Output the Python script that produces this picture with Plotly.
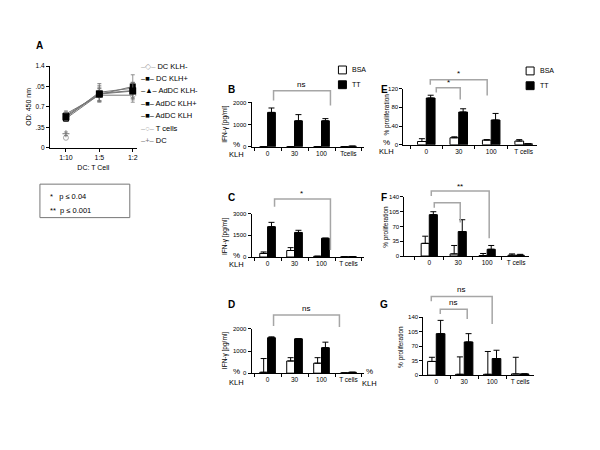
import plotly.graph_objects as go

W, H = 600, 450

# ---------------- data ----------------
ratio = ["1:10", "1:5", "1:2"]
dc_klh_neg = [0.58, 0.90, 0.90]
dc_klh_neg_err = [0.05, 0.12, 0.12]
dc_klh_pos = [0.55, 0.93, 0.98]
dc_klh_pos_err = [0.06, 0.14, 0.13]
addc_klh_neg = [0.52, 0.95, 1.02]
addc_klh_neg_err = [0.07, 0.15, 0.10]
addc_klh_pos = [0.50, 0.91, 1.05]
addc_klh_pos_err = [0.05, 0.10, 0.20]
addc_klh = [0.53, 0.92, 0.97]
addc_klh_err = [0.06, 0.12, 0.15]
tcells_a = [0.17]
dc_a = [0.24]
dc_a_err = [0.03]

klh_b = ["0", "30", "100", "Tcells"]
klh = ["0", "30", "100", "T cells"]

b_bsa = [8, 8, 8, 10]
b_bsa_err = [0, 0, 0, 0]
b_tt = [1550, 1170, 1170, 25]
b_tt_err = [200, 280, 100, 0]

c_bsa = [250, 450, 50, 10]
c_bsa_err = [100, 200, 0, 0]
c_tt = [2100, 1700, 1300, 20]
c_tt_err = [300, 150, 0, 0]

d_bsa = [40, 550, 450, 10]
d_bsa_err = [620, 150, 250, 0]
d_tt = [1600, 1550, 1150, 40]
d_tt_err = [40, 0, 250, 0]

e_bsa = [7, 15, 10, 8]
e_bsa_err = [6, 2, 1, 3]
e_tt = [100, 70, 53, 2]
e_tt_err = [6, 7, 14, 0]

f_bsa = [30, 5, 1, 2]
f_bsa_err = [17, 20, 5, 3]
f_tt = [98, 58, 16, 2]
f_tt_err = [7, 28, 9, 2]

g_bsa = [33, 2, 2, 3]
g_bsa_err = [10, 42, 55, 40]
g_tt = [100, 80, 40, 3]
g_tt_err = [32, 20, 20, 0]

FONT = "Liberation Sans"
GREY = "#a6a6a6"


def px(x):
    return x / W


def py(y):
    return 1 - y / H


annotations = []
shapes = []


def label(x, y, text, size=7, xanchor="center", angle=0):
    annotations.append(dict(x=px(x), y=py(y), xref="paper", yref="paper", text=text,
                            xanchor=xanchor, yanchor="middle", showarrow=False,
                            textangle=angle, font=dict(size=size)))


fig = go.Figure()
layout = dict(
    width=W, height=H, margin=dict(l=0, r=0, t=0, b=0),
    paper_bgcolor="white", plot_bgcolor="white",
    font=dict(family=FONT, size=7, color="black"),
    showlegend=False, barmode="overlay",
)


def axes(n, x0, x1, r, y0, yt, ymax, tickvals, ticktext, cat=True, fs=6):
    s = "" if n == 1 else str(n)
    layout["xaxis" + s] = dict(
        domain=[px(x0), px(x1)], range=r, anchor="y" + s,
        showline=True, linecolor="black", linewidth=1, showgrid=False,
        ticks="outside", ticklen=3, tickcolor="black", tickangle=0,
        tickfont=dict(size=fs + 0.5), zeroline=False,
        tickson="boundaries" if cat else "labels",
    )
    layout["yaxis" + s] = dict(
        domain=[py(y0), py(yt)], range=[0, ymax], anchor="x" + s,
        showline=True, linecolor="black", linewidth=1, showgrid=False,
        ticks="outside", ticklen=3, tickcolor="black", zeroline=False,
        tickvals=tickvals, ticktext=ticktext, tickfont=dict(size=fs),
    )


# ---------------- panel A ----------------
axes(1, 50, 137, [-0.48, 2.12], 146, 63, 1.4,
     [0, 0.35, 0.7, 1.05, 1.4], ["0", ".35", "0.7", ".05", "1.4"], cat=False, fs=6.5)
layout["xaxis"]["title"] = dict(text="DC: T Cell", font=dict(size=7), standoff=4)
layout["yaxis"]["title"] = dict(text="OD: 450 nm", font=dict(size=7), standoff=3)

a_series = [
    (dc_klh_neg, dc_klh_neg_err, "diamond-open", GREY, 5),
    (dc_klh_pos, dc_klh_pos_err, "square", "black", 6),
    (addc_klh_neg, addc_klh_neg_err, "triangle-up", "black", 5),
    (addc_klh_pos, addc_klh_pos_err, "square", "black", 6),
    (addc_klh, addc_klh_err, "square", "black", 7),
]
for yv, ev, sym, col, sz in a_series:
    fig.add_trace(go.Scatter(
        x=ratio, y=yv, mode="lines+markers", xaxis="x", yaxis="y",
        line=dict(color="#777777", width=1),
        marker=dict(symbol=sym, color=col, size=sz),
        error_y=dict(type="data", array=ev, color="#777777", thickness=0.8, width=2),
    ))
fig.add_trace(go.Scatter(x=ratio[:1], y=tcells_a, mode="markers", xaxis="x", yaxis="y",
                         marker=dict(symbol="circle-open", color=GREY, size=5)))
fig.add_trace(go.Scatter(x=ratio[:1], y=dc_a, mode="markers", xaxis="x", yaxis="y",
                         marker=dict(symbol="cross-thin-open", color="#777777", size=5,
                                     line=dict(width=1, color="#777777")),
                         error_y=dict(type="data", array=dc_a_err, color="#777777", thickness=0.8, width=2)))

a_leg = [("–◇–", GREY, "DC KLH-"), ("–■–", "black", "DC KLH+"), ("–▲–", "black", "AdDC KLH-"),
         ("–■–", "black", "AdDC KLH+"), ("–■–", "black", "AdDC KLH"), ("–○–", GREY, "T cells"),
         ("–+–", "#777777", "DC")]
for i, (sym, col, name) in enumerate(a_leg):
    label(139, 63 + i * 12.6, '<span style="color:%s">%s</span> %s' % (col, sym, name),
          size=7.5, xanchor="left")

# ---------------- bar panels ----------------
bar_panels = [
    # n, x0, x1, range, y0, yt, ymax, ticks, cats, bsa, bsa_err, tt, tt_err, w
    (2, 252, 365, [-0.593, 3.59], 145, 100, 2000, [0, 1000, 2000], klh_b,
     b_bsa, b_bsa_err, b_tt, b_tt_err, 0.29),
    (3, 252, 365, [-0.593, 3.59], 257, 213, 3000, [0, 1500, 3000], klh,
     c_bsa, c_bsa_err, c_tt, c_tt_err, 0.29),
    (4, 252, 365, [-0.593, 3.59], 375, 330, 2000, [0, 1000, 2000], klh,
     d_bsa, d_bsa_err, d_tt, d_tt_err, 0.29),
    (5, 404, 538, [-0.708, 3.415], 143, 86, 120, [0, 40, 80, 120], klh,
     e_bsa, e_bsa_err, e_tt, e_tt_err, 0.27),
    (6, 405, 530, [-0.862, 3.45], 256, 196, 140, [0, 35, 70, 105, 140], klh,
     f_bsa, f_bsa_err, f_tt, f_tt_err, 0.28),
    (7, 424, 535, [-0.464, 3.50], 377, 318, 140, [0, 35, 70, 105, 140], klh,
     g_bsa, g_bsa_err, g_tt, g_tt_err, 0.31),
]
for (n, x0, x1, r, y0, yt, ymax, tv, cats, bsa, bsa_e, tt, tt_e, w) in bar_panels:
    axes(n, x0, x1, r, y0, yt, ymax, tv, [str(t) for t in tv])
    for name, yv, ev, fill, off in [("BSA", bsa, bsa_e, "white", -w), ("TT", tt, tt_e, "black", 0)]:
        fig.add_trace(go.Bar(
            x=cats, y=yv, name=name, width=w, offset=off,
            xaxis="x%d" % n, yaxis="y%d" % n,
            marker=dict(color=fill, line=dict(color="black", width=1)),
            error_y=dict(type="data", array=ev, arrayminus=[0] * len(ev), symmetric=False,
                         color="black", thickness=1, width=3),
        ))

# y-axis titles
for x, y in [(225, 122), (226, 236), (225, 352)]:
    label(x, y, "IFN-γ [pg/ml]", size=6.5, angle=-90)
for x, y in [(388, 112), (387, 226), (401, 348)]:
    label(x, y, "% proliferation", size=6.5, angle=-90)

# BSA / TT keys
for kx, ky in [(343, 67), (531, 68)]:
    for j, (name, fill) in enumerate([("BSA", "white"), ("TT", "black")]):
        yy = ky + j * 15
        shapes.append(dict(type="rect", xref="paper", yref="paper", x0=px(kx - 4), x1=px(kx + 4),
                           y0=py(yy + 4), y1=py(yy - 4), fillcolor=fill,
                           line=dict(color="black", width=1)))
        label(kx + 8, yy, name, size=7, xanchor="left")

# panel letters
for letter, x, y in [("A", 40, 42), ("B", 232, 87), ("C", 232, 197), ("D", 232, 305),
                     ("E", 385, 87), ("F", 385, 197), ("G", 385, 305)]:
    label(x, y, "<b>%s</b>" % letter, size=10)

# % / KLH labels
for x, y1, y2 in [(237, 143, 153), (237, 255, 265), (237, 373, 384), (387, 141, 150), (370, 373, 385)]:
    label(x, y1, "%", size=8)
    label(x, y2, "KLH", size=7.5)

# significance brackets
brackets = [
    (274, 331, 88, 98, 103, "ns", 302, 82),
    (275, 331, 198, 206, 250, "*", 302, 193),
    (274, 340, 316, 327, 328, "ns", 307, 309),
    (431, 488, 77, 82, 93, "*", 459, 71),
    (437, 461, 85, 90, 97, "*", 449, 80),
    (432, 490, 190, 195, 238, "**", 461, 185),
    (435, 461, 202, 207, 222, "", 0, 0),
    (432, 493, 297, 302, 325, "ns", 462, 290),
    (441, 468, 310, 315, 320, "ns", 454, 303),
]
for xl, xr, yt, yl, yr, txt, tx, ty in brackets:
    shapes.append(dict(type="path", xref="paper", yref="paper",
                       path="M %f,%f L %f,%f L %f,%f L %f,%f" % (px(xl), py(yl), px(xl), py(yt),
                                                                 px(xr), py(yt), px(xr), py(yr)),
                       line=dict(color=GREY, width=1.5)))
    if txt:
        label(tx, ty, txt, size=8)

# p-value box
shapes.append(dict(type="rect", xref="paper", yref="paper", x0=px(40), x1=px(130), y0=py(217), y1=py(183),
                   line=dict(color="#777777", width=1)))
label(48, 196, "*&nbsp;&nbsp;&nbsp;p ≤ 0.04", size=7.5, xanchor="left")
label(48, 210, "**&nbsp;&nbsp;p ≤ 0.001", size=7.5, xanchor="left")

layout["annotations"] = annotations
layout["shapes"] = shapes
fig.update_layout(**layout)

fig.write_html("out.html", config={"displayModeBar": False},
               post_script="document.body.style.margin='0';")
